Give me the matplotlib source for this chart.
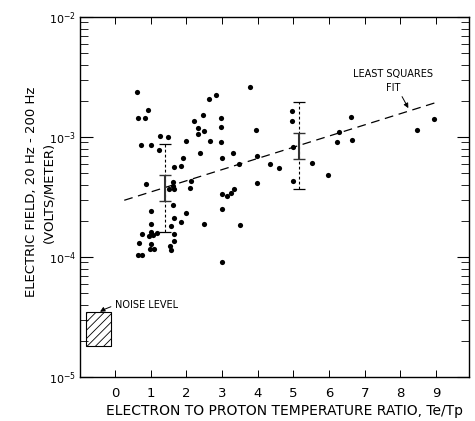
import matplotlib
matplotlib.use("Agg")
import matplotlib.pyplot as plt
import numpy as np
from matplotlib.patches import Rectangle

# Te/Tp ratio and 20-200 Hz electric field (V/m) for each event
ratio = [0.61, 2.64, 2.83, 3.77, 0.93, 0.65, 0.83, 2.48, 2.97, 2.22,
         2.32, 2.97, 2.50, 2.34, 1.25, 1.48, 1.98, 2.66, 2.98, 0.74,
         1.00, 1.23, 2.38, 3.32, 1.90, 2.99, 1.66, 1.86, 3.48, 2.13,
         0.86, 1.63, 1.62, 1.50, 1.65, 2.11, 2.99, 3.14, 3.24, 3.34,
         1.63, 1.00, 3.00, 2.00, 1.65, 1.86, 1.01, 2.50, 3.50, 1.56,
         1.00, 0.76, 0.95, 1.07, 1.19, 1.66, 0.68, 1.00, 1.65, 0.98,
         1.10, 1.55, 1.58, 0.64, 0.76, 3.01,
         4.95, 4.95, 3.95, 6.61, 8.93, 8.46, 6.29, 6.22, 6.64, 4.98,
         3.98, 4.35, 4.59, 5.53, 5.96, 3.98, 4.98]
efield = [2.37e-3, 2.08e-3, 2.25e-3, 2.59e-3, 1.68e-3, 1.44e-3, 1.45e-3, 1.52e-3, 1.45e-3, 1.36e-3,
          1.19e-3, 1.21e-3, 1.12e-3, 1.06e-3, 1.01e-3, 9.93e-4, 9.31e-4, 9.31e-4, 9.14e-4, 8.51e-4,
          8.51e-4, 7.83e-4, 7.40e-4, 7.40e-4, 6.73e-4, 6.73e-4, 5.61e-4, 5.77e-4, 5.94e-4, 4.32e-4,
          4.07e-4, 4.21e-4, 3.94e-4, 3.72e-4, 3.68e-4, 3.77e-4, 3.38e-4, 3.25e-4, 3.44e-4, 3.66e-4,
          2.71e-4, 2.44e-4, 2.52e-4, 2.32e-4, 2.12e-4, 1.94e-4, 1.88e-4, 1.88e-4, 1.86e-4, 1.80e-4,
          1.63e-4, 1.54e-4, 1.51e-4, 1.53e-4, 1.59e-4, 1.56e-4, 1.32e-4, 1.28e-4, 1.37e-4, 1.16e-4,
          1.16e-4, 1.23e-4, 1.14e-4, 1.03e-4, 1.03e-4, 9.08e-5,
          1.66e-3, 1.37e-3, 1.14e-3, 1.46e-3, 1.42e-3, 1.14e-3, 1.10e-3, 9.08e-4, 9.44e-4, 8.30e-4,
          7.00e-4, 5.92e-4, 5.48e-4, 6.04e-4, 4.86e-4, 4.13e-4, 4.28e-4]

# least squares fit end points
fit_x = [0.26, 9.0]
fit_y = [2.97e-4, 1.94e-3]

# bars: inner (solid) and outer (dashed) spread
bar_x = [1.40, 5.15]
inner_lo = [2.95e-4, 6.56e-4]
inner_hi = [4.80e-4, 1.07e-3]
outer_lo = [1.61e-4, 3.70e-4]
outer_hi = [8.75e-4, 1.96e-3]

# noise level box
noise_x = [-0.81, -0.12]
noise_y = [1.82e-5, 3.46e-5]

plt.rcParams['font.family'] = 'DejaVu Sans'
plt.rcParams['hatch.linewidth'] = 0.6

fig = plt.figure(figsize=(4.75, 4.21), dpi=100)
ax = fig.add_axes([80/475, 1 - 377/421, 389/475, 360/421])

ax.scatter(ratio, efield, s=14, color='k', zorder=3, linewidths=0)

fit_line, = ax.plot(fit_x, fit_y, color='k', lw=0.9)
fit_line.set_dashes((7, 4.5))

mid = np.sqrt(np.array(inner_lo) * np.array(inner_hi))
eb = ax.errorbar(bar_x, mid, yerr=[mid - np.array(outer_lo), np.array(outer_hi) - mid],
                 fmt='none', ecolor='k', elinewidth=0.8, capsize=4, capthick=0.9)
eb[2][0].set_linestyle((0, (2.5, 2)))
ax.errorbar(bar_x, mid, yerr=[mid - np.array(inner_lo), np.array(inner_hi) - mid],
            fmt='none', ecolor='#333333', elinewidth=1.5, capsize=4.5, capthick=1.0)

ax.add_patch(Rectangle((noise_x[0], noise_y[0]), noise_x[1] - noise_x[0], noise_y[1] - noise_y[0],
                       fill=False, hatch='////', lw=0.8, edgecolor='k'))

ax.annotate("NOISE LEVEL", xy=(-0.42, 3.5e-5), xytext=(0.0, 3.95e-5),
            ha='left', va='center', fontsize=7,
            arrowprops=dict(arrowstyle='-|>', lw=0.7, color='k', mutation_scale=7,
                            connectionstyle='arc3,rad=0.2', shrinkA=1, shrinkB=0))
ax.annotate("LEAST SQUARES\nFIT", xy=(8.22, 1.74e-3), xytext=(7.8, 2.95e-3),
            ha='center', va='center', fontsize=7, linespacing=1.5,
            arrowprops=dict(arrowstyle='-|>', lw=0.7, color='k', mutation_scale=7,
                            shrinkA=1, shrinkB=0))

ax.set_yscale('log')
ax.set_ylim(1e-5, 1e-2)
ax.set_xlim(-0.98, 9.92)
ax.set_xticks(range(10))
ax.tick_params(axis='both', which='both', direction='in', top=True, right=True)
ax.tick_params(axis='y', which='major', length=9, width=0.8, pad=3, labelsize=8)
ax.tick_params(axis='y', which='minor', length=6, width=0.6)
ax.tick_params(axis='x', which='major', length=5, width=0.7, pad=7, labelsize=9.5)
for sp in ax.spines.values():
    sp.set_linewidth(1.0)

fig.text(32/475, 1 - 192/421, "ELECTRIC FIELD, 20 Hz - 200 Hz", rotation=90,
         ha='center', va='center', fontsize=9.5)
fig.text(49/475, 1 - 192/421, "(VOLTS/METER)", rotation=90,
         ha='center', va='center', fontsize=9.5)
fig.text(285/475, 1 - 411/421, "ELECTRON TO PROTON TEMPERATURE RATIO, Te/Tp",
         ha='center', va='center', fontsize=10)

fig.savefig('out.png', dpi=100)
